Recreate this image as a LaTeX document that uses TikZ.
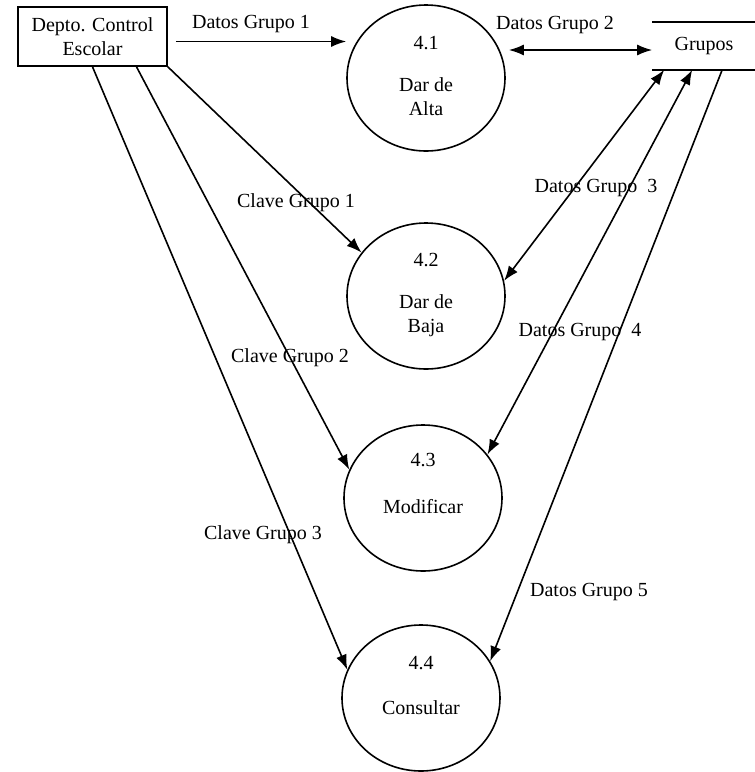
\documentclass[tikz,border=0pt]{standalone}
\usepackage{fontspec}
\setmainfont{Liberation Serif}
\usetikzlibrary{shapes.geometric,arrows.meta,calc}

\begin{document}
\begin{tikzpicture}[x=0.5pt,y=-0.5pt,>={Latex[length=7.5pt,width=5.5pt]},line width=0.8pt,
  proceso/.style={draw, ellipse, minimum width=79pt, minimum height=73pt, inner sep=0pt},
  entidad/.style={draw, rectangle, minimum width=74.5pt, minimum height=29.5pt, align=center, inner sep=0pt},
  almacen/.style={rectangle, minimum width=51pt, minimum height=23pt, inner sep=0pt}]

\useasboundingbox (0,0) rectangle (755,772);

%Entidad externa y almacen
\node[entidad] (dce) at (92.5,36.5) {Depto. Control\\Escolar};
\node[almacen] (grp) at (704,46) {Grupos};
\draw (grp.north west) -- (grp.north east);
\draw (grp.south west) -- (grp.south east);

%Procesos
\node[proceso] (p41) at (426,78) {};
\node (n41) at (426,43) {4.1};
\node[align=center] (t41) at (426,97) {Dar de\\Alta};

\node[proceso] (p42) at (426,296) {};
\node (n42) at (426,260) {4.2};
\node[align=center] (t42) at (426,316) {Dar de\\Baja};

\node[proceso] (p43) at (423,498) {};
\node (n43) at (423,460) {4.3};
\node (t43) at (423,507) {Modificar};

\node[proceso] (p44) at (421,698) {};
\node (n44) at (421,663) {4.4};
\node (t44) at (421,708) {Consultar};

%Flujos
\coordinate (s1) at ([shift={(8,5)}]dce.east);
\draw[->] (s1) -- (s1 -| p41.west);
\node (l1) at (251,24) {Datos Grupo 1};

\coordinate (s2) at ($(p41.east)+(3,-28)$);
\draw[<->] (s2) -- (s2 -| grp.west);
\node (l2) at (555,25) {Datos Grupo 2};

\draw[->] (dce.south east) -- (p42.146);
\node (c1) at (296,203) {Clave Grupo 1};

\draw[->] ($(dce.south)+(44,0)$) -- (p43.159);
\node (c2) at (290,358) {Clave Grupo 2};

\draw[->] (dce.south) -- (p44.159);
\node (c3) at (263,535) {Clave Grupo 3};

\draw[<->] ($(grp.south west)+(12,0)$) -- (p42.11);
\node (l3) at (596,188) {Datos Grupo\ \ 3};

\draw[<->] ($(grp.south west)+(40,0)$) -- (p43.34);
\node (l4) at (580,332) {Datos Grupo\ \ 4};

\draw[->] ($(grp.south west)+(70,0)$) -- (p44.28);
\node (l5) at (589,592) {Datos Grupo 5};

\end{tikzpicture}
\end{document}
